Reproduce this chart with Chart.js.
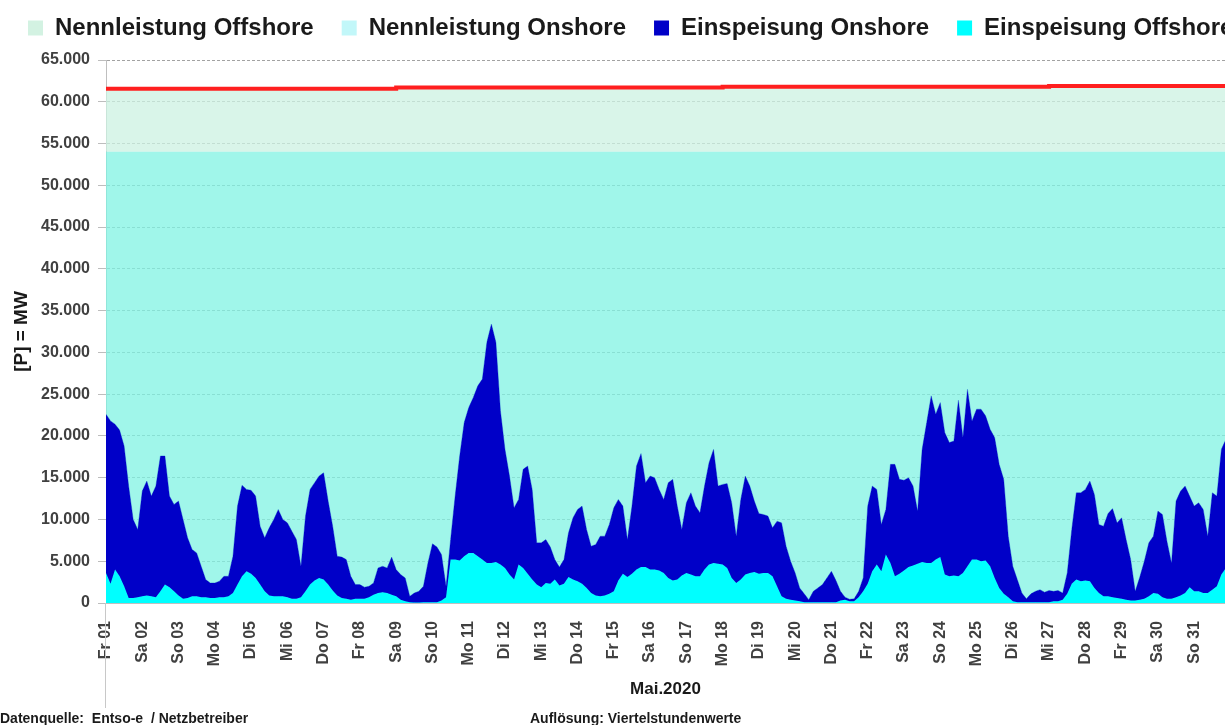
<!DOCTYPE html>
<html>
<head>
<meta charset="utf-8">
<title>Einspeisung Wind Mai 2020</title>
<script src="https://cdn.jsdelivr.net/npm/chart.js"></script>
<style>
  body { margin: 0; background: #fff; }
  #wrap { position: relative; width: 1225px; height: 725px; overflow: hidden; }
  .fuss { position: absolute; top: 710px; font: bold 14px 'Liberation Sans', Arial, sans-serif; color: #1a1a1a; white-space: pre; }
</style>
</head>
<body>
<div id="wrap">
  <canvas id="chart" width="1225" height="725"></canvas>
  <div class="fuss" style="left:0px">Datenquelle:  Entso-e  / Netzbetreiber</div>
  <div class="fuss" style="left:530px">Auflösung: Viertelstundenwerte</div>
</div>
<script>
// Tageslabels der x-Achse (Mai 2020)
const tage = ['Fr 01', 'Sa 02', 'So 03', 'Mo 04', 'Di 05', 'Mi 06', 'Do 07', 'Fr 08', 'Sa 09', 'So 10',
  'Mo 11', 'Di 12', 'Mi 13', 'Do 14', 'Fr 15', 'Sa 16', 'So 17', 'Mo 18', 'Di 19', 'Mi 20',
  'Do 21', 'Fr 22', 'Sa 23', 'So 24', 'Mo 25', 'Di 26', 'Mi 27', 'Do 28', 'Fr 29', 'Sa 30', 'So 31'];

const schrittTage = 3 / 24;

// Oberkante der Einspeisung (Offshore + Onshore)
const einspeisungGesamt = [
  22600, 21800, 21400, 20700, 18800, 14000, 10000, 8800, 13400, 14600, 12800, 14000, 17600, 17600, 12800, 11800,
  12200, 10000, 7800, 6400, 6000, 4400, 2800, 2400, 2400, 2600, 3200, 3200, 5600, 11600, 14100, 13600,
  13500, 12800, 9200, 7800, 9000, 10000, 11200, 10000, 9600, 8600, 7600, 4400, 10400, 13600, 14400, 15200,
  15600, 12200, 9200, 5600, 5500, 5200, 3200, 2200, 2200, 1900, 2000, 2400, 4200, 4400, 4200, 5500,
  4000, 3400, 3000, 800, 1200, 1400, 2000, 4800, 7100, 6700, 5800, 2000, 7600, 12800, 17600, 21600,
  23400, 24600, 26000, 26800, 31200, 33400, 31200, 23000, 18400, 15200, 11400, 12400, 16000, 16400, 13600, 7200,
  7200, 7600, 6700, 5200, 4300, 5200, 8400, 10200, 11200, 11600, 8800, 6800, 7000, 8000, 8000, 9400,
  11400, 12400, 11600, 7600, 11600, 16400, 17900, 14400, 15200, 15000, 13600, 12400, 14400, 14800, 11600, 8800,
  12000, 13200, 11600, 10800, 14000, 16800, 18400, 14000, 14200, 14300, 12000, 8000, 12400, 15200, 14000, 12200,
  10700, 10600, 10400, 9000, 9800, 9600, 6800, 5000, 3600, 1800, 1100, 400, 1400, 1800, 2200, 3000,
  3800, 2700, 1400, 700, 450, 500, 1400, 3000, 11600, 14000, 13600, 9400, 11200, 16600, 16600, 14800,
  14700, 15000, 14000, 11000, 18400, 21600, 24800, 22600, 24000, 20400, 19200, 19400, 24300, 19800, 25600, 21800,
  23200, 23200, 22400, 20800, 19800, 16600, 14800, 8000, 4400, 2800, 1200, 500, 1100, 1400, 1600, 1300,
  1500, 1400, 1500, 1200, 3600, 8800, 13200, 13200, 13600, 14600, 13000, 9400, 9200, 10700, 11300, 9600,
  10200, 7600, 5200, 1400, 3100, 5000, 7200, 8000, 11000, 10600, 7400, 4800, 12200, 13400, 14000, 12800,
  11600, 12000, 11200, 8000, 13200, 12800, 18400, 19600
];

const einspeisungOffshore = [
  3600, 2300, 4000, 3200, 2000, 600, 600, 700, 800, 900, 800, 700, 1400, 2200, 1900, 1400,
  900, 500, 600, 800, 800, 700, 700, 600, 600, 700, 700, 800, 1200, 2200, 3200, 3800,
  3500, 3000, 2200, 1400, 900, 800, 800, 800, 700, 500, 500, 700, 1400, 2200, 2700, 3000,
  2800, 2200, 1500, 900, 600, 500, 400, 500, 500, 500, 700, 1000, 1200, 1300, 1200, 1000,
  800, 400, 200, 100, 50, 50, 100, 100, 100, 100, 300, 700, 5200, 5200, 5100, 5600,
  6000, 6000, 5600, 5200, 4800, 4800, 4900, 4600, 4200, 3400, 2800, 4600, 4200, 3500, 2800, 2200,
  1900, 2400, 2300, 2800, 2100, 2300, 3100, 2800, 2600, 2300, 1800, 1200, 900, 800, 900, 1100,
  1400, 2700, 3500, 3100, 3500, 4000, 4300, 4300, 4000, 4000, 3900, 3600, 3000, 2700, 2800, 3300,
  3600, 3400, 3200, 3200, 4000, 4600, 4800, 4700, 4600, 4200, 3000, 2400, 2800, 3400, 3600, 3700,
  3500, 3600, 3600, 3200, 2000, 800, 500, 400, 300, 200, 100, 100, 100, 100, 100, 100,
  100, 100, 300, 400, 200, 200, 700, 1400, 2300, 3800, 4600, 3800, 5800, 4800, 3200, 3500,
  3900, 4300, 4500, 4700, 4900, 4800, 4800, 5200, 5500, 3400, 3200, 3300, 3200, 3600, 4400, 5200,
  5200, 5000, 5100, 4400, 3000, 1800, 1100, 700, 200, 100, 100, 100, 100, 100, 100, 100,
  100, 200, 200, 400, 1100, 2300, 2800, 2600, 2700, 2600, 1800, 1200, 800, 800, 700, 600,
  500, 400, 300, 300, 400, 500, 800, 1200, 1100, 700, 500, 500, 700, 900, 1200, 1900,
  1400, 1400, 1200, 1200, 1600, 2000, 3400, 4200
];

// Nennleistung (Stufen ab Tag x)
const nennGesamtTage = [0, 8, 17, 26, 31];
const nennleistungGesamt = [61550, 61700, 61800, 61900, 61900];
const nennOnshoreTage = [0, 31];
const nennleistungOnshore = [54050, 54050];

const legendeFarben = ['#d3f2e2', '#c2f7f9', '#0000c8', '#00ffff'];

const zuPunkten = werte => werte.map((v, i) => ({ x: i * schrittTage, y: v }));
const tausender = v => String(v).replace(/\B(?=(\d{3})+(?!\d))/g, '.');

Chart.defaults.font.family = "'Liberation Sans', Arial, sans-serif";

// feste Hoehe der Legende, kein Umbruch (letzter Eintrag darf rechts anstossen)
const legendeHoehe = {
  id: 'legendeHoehe',
  beforeUpdate(chart) {
    const legend = chart.legend;
    if (!legend || legend._fest) return;
    const fit = legend.fit;
    legend.fit = function () {
      this.maxWidth = 4000;
      fit.call(this);
      this.height = 72;
    };
    legend._fest = true;
  },
  afterLayout(chart) {
    if (chart.legend) chart.legend.right = 2000;
  }
};

// graue Achslinie links bis unter die Beschriftung
const achsenLinie = {
  id: 'achsenLinie',
  afterDraw(chart) {
    const { ctx, chartArea } = chart;
    ctx.save();
    ctx.strokeStyle = '#c8c8c8';
    ctx.lineWidth = 1;
    ctx.beginPath();
    ctx.moveTo(chartArea.left - 0.5, chartArea.bottom);
    ctx.lineTo(chartArea.left - 0.5, 708);
    ctx.stroke();
    ctx.restore();
  }
};

new Chart(document.getElementById('chart'), {
  type: 'line',
  data: {
    datasets: [
      {
        label: 'Nennleistung Offshore',
        data: nennGesamtTage.map((t, i) => ({ x: t, y: nennleistungGesamt[i] })),
        stepped: true,
        borderColor: '#ff1f1f',
        borderWidth: 4,
        backgroundColor: 'rgba(204, 242, 226, 0.75)',
        fill: 1,
        pointRadius: 0
      },
      {
        label: 'Nennleistung Onshore',
        data: nennOnshoreTage.map((t, i) => ({ x: t, y: nennleistungOnshore[i] })),
        borderColor: 'rgba(0,0,0,0)',
        borderWidth: 1,
        backgroundColor: 'rgba(128, 243, 227, 0.75)',
        fill: 2,
        pointRadius: 0
      },
      {
        label: 'Einspeisung Onshore',
        data: zuPunkten(einspeisungGesamt),
        borderColor: '#0000c8',
        borderWidth: 1,
        backgroundColor: '#0000c8',
        fill: 3,
        pointRadius: 0
      },
      {
        label: 'Einspeisung Offshore',
        data: zuPunkten(einspeisungOffshore),
        borderColor: '#00ffff',
        borderWidth: 1,
        backgroundColor: '#00ffff',
        fill: 'origin',
        pointRadius: 0
      }
    ]
  },
  options: {
    responsive: false,
    animation: false,
    layout: { padding: { top: -12, left: 0, right: 0, bottom: 0 } },
    plugins: {
      tooltip: { enabled: false },
      legend: {
        align: 'start',
        labels: {
          font: { size: 24, weight: 'bold' },
          color: '#1a1a1a',
          boxWidth: 15,
          boxHeight: 15,
          padding: 28,
          generateLabels(chart) {
            return chart.data.datasets.map((ds, i) => ({
              text: ds.label,
              fillStyle: legendeFarben[i],
              strokeStyle: 'rgba(0,0,0,0)',
              lineWidth: 0,
              hidden: !chart.isDatasetVisible(i),
              datasetIndex: i,
              fontColor: '#1a1a1a'
            }));
          }
        }
      }
    },
    scales: {
      x: {
        type: 'linear',
        min: 0,
        max: 30.85,
        afterFit(scale) { scale.height = 122; },
        grid: { display: false },
        border: { color: '#bfbfbf', width: 1 },
        ticks: {
          stepSize: 1,
          autoSkip: false,
          includeBounds: false,
          minRotation: 90,
          maxRotation: 90,
          padding: 10,
          color: '#404040',
          font: { size: 16, weight: 'bold' },
          callback: v => Number.isInteger(v) && tage[v] ? tage[v] : ''
        },
        title: {
          display: true,
          text: 'Mai.2020',
          color: '#1a1a1a',
          font: { size: 17, weight: 'bold' },
          padding: { top: 0, bottom: 25 }
        }
      },
      y: {
        min: 0,
        max: 65000,
        afterFit(scale) { scale.width = 106; },
        grid: {
          color: '#a2a2a2',
          tickLength: 8,
          tickBorderDash: [],
          tickColor: c => c.tick && c.tick.value % 5000 === 0 ? '#bdbdbd' : 'rgba(0,0,0,0)'
        },
        border: { color: '#bfbfbf', width: 1, dash: [3, 2] },
        ticks: {
          stepSize: 2500,
          padding: 8,
          color: '#404040',
          font: { size: 16, weight: 'bold' },
          callback: v => v % 5000 === 0 ? tausender(v) : ''
        },
        title: {
          display: true,
          text: '[P] = MW',
          color: '#1a1a1a',
          font: { size: 19, weight: 'bold' },
          padding: { top: 10, bottom: 0 }
        }
      }
    }
  },
  plugins: [legendeHoehe, achsenLinie]
});
</script>
</body>
</html>
